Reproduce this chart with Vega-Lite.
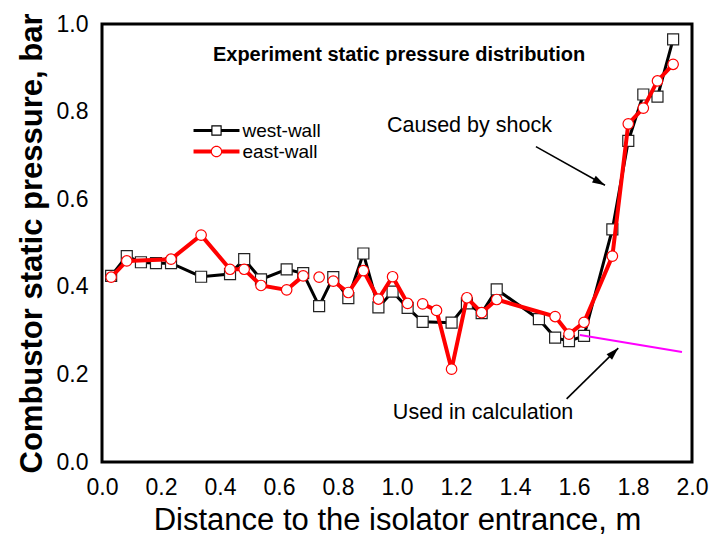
{
  "$schema": "https://vega.github.io/schema/vega-lite/v6.json",
  "width": 590,
  "height": 438,
  "autosize": {"type": "none"},
  "padding": {"left": 102, "top": 24, "right": 27, "bottom": 75},
  "background": "white",
  "config": {
    "view": {"stroke": "#000000", "strokeWidth": 3},
    "font": "Liberation Sans",
    "axis": {
      "grid": false,
      "domain": false,
      "ticks": false,
      "labelColor": "#000000",
      "labelFont": "Liberation Sans",
      "labelFontSize": 23,
      "labelOverlap": false,
      "labelFlush": false,
      "titleColor": "#000000",
      "titleFont": "Liberation Sans",
      "titleFontWeight": "normal"
    }
  },
  "datasets": {
    "pressure": [
      {"x": 0.031, "p": 0.425, "wall": "west-wall", "seg": "w"},
      {"x": 0.084, "p": 0.470, "wall": "west-wall", "seg": "w"},
      {"x": 0.132, "p": 0.456, "wall": "west-wall", "seg": "w"},
      {"x": 0.183, "p": 0.454, "wall": "west-wall", "seg": "w"},
      {"x": 0.234, "p": 0.454, "wall": "west-wall", "seg": "w"},
      {"x": 0.336, "p": 0.423, "wall": "west-wall", "seg": "w"},
      {"x": 0.434, "p": 0.429, "wall": "west-wall", "seg": "w"},
      {"x": 0.482, "p": 0.463, "wall": "west-wall", "seg": "w"},
      {"x": 0.539, "p": 0.417, "wall": "west-wall", "seg": "w"},
      {"x": 0.626, "p": 0.440, "wall": "west-wall", "seg": "w"},
      {"x": 0.682, "p": 0.431, "wall": "west-wall", "seg": "w"},
      {"x": 0.736, "p": 0.356, "wall": "west-wall", "seg": "w"},
      {"x": 0.784, "p": 0.422, "wall": "west-wall", "seg": "w"},
      {"x": 0.835, "p": 0.374, "wall": "west-wall", "seg": "w"},
      {"x": 0.886, "p": 0.476, "wall": "west-wall", "seg": "w"},
      {"x": 0.937, "p": 0.353, "wall": "west-wall", "seg": "w"},
      {"x": 0.985, "p": 0.389, "wall": "west-wall", "seg": "w"},
      {"x": 1.036, "p": 0.352, "wall": "west-wall", "seg": "w"},
      {"x": 1.087, "p": 0.320, "wall": "west-wall", "seg": "w"},
      {"x": 1.185, "p": 0.318, "wall": "west-wall", "seg": "w"},
      {"x": 1.237, "p": 0.362, "wall": "west-wall", "seg": "w"},
      {"x": 1.287, "p": 0.340, "wall": "west-wall", "seg": "w"},
      {"x": 1.338, "p": 0.394, "wall": "west-wall", "seg": "w"},
      {"x": 1.481, "p": 0.326, "wall": "west-wall", "seg": "w"},
      {"x": 1.536, "p": 0.284, "wall": "west-wall", "seg": "w"},
      {"x": 1.583, "p": 0.276, "wall": "west-wall", "seg": "w"},
      {"x": 1.634, "p": 0.288, "wall": "west-wall", "seg": "w"},
      {"x": 1.730, "p": 0.531, "wall": "west-wall", "seg": "w"},
      {"x": 1.784, "p": 0.733, "wall": "west-wall", "seg": "w"},
      {"x": 1.835, "p": 0.839, "wall": "west-wall", "seg": "w"},
      {"x": 1.883, "p": 0.834, "wall": "west-wall", "seg": "w"},
      {"x": 1.936, "p": 0.965, "wall": "west-wall", "seg": "w"},
      {"x": 0.031, "p": 0.422, "wall": "east-wall", "seg": "e1"},
      {"x": 0.084, "p": 0.459, "wall": "east-wall", "seg": "e1"},
      {"x": 0.234, "p": 0.463, "wall": "east-wall", "seg": "e1"},
      {"x": 0.336, "p": 0.518, "wall": "east-wall", "seg": "e1"},
      {"x": 0.434, "p": 0.440, "wall": "east-wall", "seg": "e1"},
      {"x": 0.482, "p": 0.440, "wall": "east-wall", "seg": "e1"},
      {"x": 0.539, "p": 0.403, "wall": "east-wall", "seg": "e1"},
      {"x": 0.626, "p": 0.393, "wall": "east-wall", "seg": "e1"},
      {"x": 0.682, "p": 0.425, "wall": "east-wall", "seg": "e1"},
      {"x": 0.736, "p": 0.422, "wall": "east-wall", "seg": "e2"},
      {"x": 0.784, "p": 0.413, "wall": "east-wall", "seg": "e3"},
      {"x": 0.835, "p": 0.387, "wall": "east-wall", "seg": "e3"},
      {"x": 0.886, "p": 0.437, "wall": "east-wall", "seg": "e3"},
      {"x": 0.937, "p": 0.372, "wall": "east-wall", "seg": "e3"},
      {"x": 0.985, "p": 0.423, "wall": "east-wall", "seg": "e3"},
      {"x": 1.036, "p": 0.362, "wall": "east-wall", "seg": "e3"},
      {"x": 1.087, "p": 0.361, "wall": "east-wall", "seg": "e4"},
      {"x": 1.134, "p": 0.346, "wall": "east-wall", "seg": "e4"},
      {"x": 1.185, "p": 0.212, "wall": "east-wall", "seg": "e4"},
      {"x": 1.237, "p": 0.375, "wall": "east-wall", "seg": "e4"},
      {"x": 1.287, "p": 0.341, "wall": "east-wall", "seg": "e4"},
      {"x": 1.338, "p": 0.371, "wall": "east-wall", "seg": "e4"},
      {"x": 1.536, "p": 0.332, "wall": "east-wall", "seg": "e4"},
      {"x": 1.583, "p": 0.292, "wall": "east-wall", "seg": "e4"},
      {"x": 1.634, "p": 0.319, "wall": "east-wall", "seg": "e4"},
      {"x": 1.730, "p": 0.470, "wall": "east-wall", "seg": "e4"},
      {"x": 1.784, "p": 0.772, "wall": "east-wall", "seg": "e4"},
      {"x": 1.835, "p": 0.808, "wall": "east-wall", "seg": "e4"},
      {"x": 1.883, "p": 0.870, "wall": "east-wall", "seg": "e4"},
      {"x": 1.936, "p": 0.908, "wall": "east-wall", "seg": "e4"}
    ],
    "calc": [
      {"x": 1.620, "p": 0.290},
      {"x": 1.966, "p": 0.251}
    ],
    "arrows": [
      {"note": "shock", "x": 1.471, "p": 0.720, "x2": 1.705, "p2": 0.632},
      {"note": "calc", "x": 1.575, "p": 0.144, "x2": 1.750, "p2": 0.260}
    ],
    "notes": [
      {"kind": "heading", "x": 0.376, "p": 0.929, "text": "Experiment static pressure distribution"},
      {"kind": "note", "x": 0.966, "p": 0.766, "text": "Caused by shock"},
      {"kind": "note", "x": 0.986, "p": 0.112, "text": "Used in calculation"}
    ],
    "xmajor": [
      {"v": 0}, {"v": 0.2}, {"v": 0.4}, {"v": 0.6}, {"v": 0.8}, {"v": 1}, {"v": 1.2}, {"v": 1.4}, {"v": 1.6}, {"v": 1.8}, {"v": 2}
    ],
    "xminor": [
      {"v": 0.04}, {"v": 0.08}, {"v": 0.12}, {"v": 0.16}, {"v": 0.24}, {"v": 0.28}, {"v": 0.32}, {"v": 0.36},
      {"v": 0.44}, {"v": 0.48}, {"v": 0.52}, {"v": 0.56}, {"v": 0.64}, {"v": 0.68}, {"v": 0.72}, {"v": 0.76},
      {"v": 0.84}, {"v": 0.88}, {"v": 0.92}, {"v": 0.96}, {"v": 1.04}, {"v": 1.08}, {"v": 1.12}, {"v": 1.16},
      {"v": 1.24}, {"v": 1.28}, {"v": 1.32}, {"v": 1.36}, {"v": 1.44}, {"v": 1.48}, {"v": 1.52}, {"v": 1.56},
      {"v": 1.64}, {"v": 1.68}, {"v": 1.72}, {"v": 1.76}, {"v": 1.84}, {"v": 1.88}, {"v": 1.92}, {"v": 1.96}
    ],
    "ymajor": [
      {"v": 0}, {"v": 0.2}, {"v": 0.4}, {"v": 0.6}, {"v": 0.8}, {"v": 1}
    ],
    "yminor": [
      {"v": 0.04}, {"v": 0.08}, {"v": 0.12}, {"v": 0.16}, {"v": 0.24}, {"v": 0.28}, {"v": 0.32}, {"v": 0.36},
      {"v": 0.44}, {"v": 0.48}, {"v": 0.52}, {"v": 0.56}, {"v": 0.64}, {"v": 0.68}, {"v": 0.72}, {"v": 0.76},
      {"v": 0.84}, {"v": 0.88}, {"v": 0.92}, {"v": 0.96}
    ]
  },
  "resolve": {"axis": {"x": "independent", "y": "independent"}},
  "encoding": {
    "x": {"field": "x", "type": "quantitative", "scale": {"domain": [0, 2], "nice": false, "zero": false}, "axis": null},
    "y": {"field": "p", "type": "quantitative", "scale": {"domain": [0, 1], "nice": false, "zero": false}, "axis": null}
  },
  "layer": [
    {
      "data": {"name": "pressure"},
      "transform": [{"filter": "datum.wall === 'west-wall'"}],
      "mark": {"type": "line", "strokeWidth": 3, "color": "#000000"},
      "encoding": {
        "x": {
          "field": "x", "type": "quantitative",
          "scale": {"domain": [0, 2], "nice": false, "zero": false},
          "axis": {
            "orient": "bottom",
            "title": "Distance to the isolator entrance, m",
            "titleFontSize": 31,
            "values": [0, 0.2, 0.4, 0.6, 0.8, 1, 1.2, 1.4, 1.6, 1.8, 2],
            "format": ".1f",
            "labelPadding": 14,
            "titlePadding": 6
          }
        },
        "y": {
          "field": "p", "type": "quantitative",
          "scale": {"domain": [0, 1], "nice": false, "zero": false},
          "axis": {
            "orient": "left",
            "title": "Combustor static pressure, bar",
            "titleFontSize": 31,
            "titleFontWeight": "bold",
            "values": [0, 0.2, 0.4, 0.6, 0.8, 1],
            "format": ".1f",
            "labelPadding": 14,
            "titlePadding": 8
          }
        }
      }
    },
    {
      "data": {"name": "pressure"},
      "transform": [{"filter": "datum.wall === 'west-wall'"}],
      "mark": {"type": "point", "shape": "square", "fill": "#ffffff", "fillOpacity": 1, "stroke": "#222222", "strokeWidth": 1.2, "size": 121, "opacity": 1},
      "encoding": {}
    },
    {
      "data": {"name": "pressure"},
      "transform": [{"filter": "datum.wall === 'east-wall'"}],
      "mark": {"type": "line", "strokeWidth": 4, "color": "#ff0000"},
      "encoding": {"detail": {"field": "seg"}}
    },
    {
      "data": {"name": "pressure"},
      "transform": [{"filter": "datum.wall === 'east-wall'"}],
      "mark": {"type": "point", "shape": "circle", "fill": "#ffffff", "fillOpacity": 1, "stroke": "#ff0000", "strokeWidth": 1.2, "size": 110, "opacity": 1},
      "encoding": {}
    },
    {
      "data": {"name": "calc"},
      "mark": {"type": "line", "color": "#ff00ff", "strokeWidth": 2},
      "encoding": {}
    },
    {
      "data": {"name": "pressure"},
      "mark": {"type": "point", "filled": true, "opacity": 0},
      "encoding": {
        "color": {
          "field": "wall", "type": "nominal",
          "scale": {"domain": ["west-wall", "east-wall"], "range": ["#000000", "#ff0000"]},
          "legend": {
            "orient": "none", "legendX": 105, "legendY": 97,
            "title": null, "padding": 0,
            "symbolSize": 132, "symbolOpacity": 1, "symbolStrokeWidth": 0,
            "labelFont": "Liberation Sans", "labelFontSize": 19, "labelColor": "#000000",
            "labelOffset": 16.5, "rowPadding": 1
          }
        },
        "shape": {
          "field": "wall", "type": "nominal",
          "scale": {
            "domain": ["west-wall", "east-wall"],
            "range": [
              "M-4,-0.28L-0.9,-0.28L-0.9,0.28L-4,0.28Z M0.9,-0.28L4,-0.28L4,0.28L0.9,0.28Z M-0.9,-0.9L0.9,-0.9L0.9,0.9L-0.9,0.9Z M-0.7,-0.7L-0.7,0.7L0.7,0.7L0.7,-0.7Z",
              "M-4,-0.35L-0.98,-0.35L-0.98,0.35L-4,0.35Z M0.98,-0.35L4,-0.35L4,0.35L0.98,0.35Z M1,0A1,1,0,1,1,-1,0A1,1,0,1,1,1,0Z M0.8,0A0.8,0.8,0,1,0,-0.8,0A0.8,0.8,0,1,0,0.8,0Z"
            ]
          },
          "legend": {
            "orient": "none", "legendX": 105, "legendY": 97,
            "title": null, "padding": 0,
            "symbolSize": 132, "symbolOpacity": 1, "symbolStrokeWidth": 0,
            "labelFont": "Liberation Sans", "labelFontSize": 19, "labelColor": "#000000",
            "labelOffset": 16.5, "rowPadding": 1
          }
        }
      }
    },
    {
      "data": {"name": "arrows"},
      "mark": {"type": "rule", "color": "#000000", "strokeWidth": 1.6},
      "encoding": {
        "x2": {"field": "x2"},
        "y2": {"field": "p2"}
      }
    },
    {
      "data": {"name": "arrows"},
      "transform": [{"filter": "datum.note === 'shock'"}],
      "mark": {"type": "point", "shape": "M0,0L0.4,1.3L-0.4,1.3Z", "filled": true, "color": "#000000", "opacity": 1, "size": 380, "angle": 119},
      "encoding": {
        "x": {"field": "x2", "type": "quantitative", "axis": null},
        "y": {"field": "p2", "type": "quantitative", "axis": null}
      }
    },
    {
      "data": {"name": "arrows"},
      "transform": [{"filter": "datum.note === 'calc'"}],
      "mark": {"type": "point", "shape": "M0,0L0.4,1.3L-0.4,1.3Z", "filled": true, "color": "#000000", "opacity": 1, "size": 380, "angle": 45},
      "encoding": {
        "x": {"field": "x2", "type": "quantitative", "axis": null},
        "y": {"field": "p2", "type": "quantitative", "axis": null}
      }
    },
    {
      "data": {"name": "notes"},
      "transform": [{"filter": "datum.kind === 'heading'"}],
      "mark": {"type": "text", "align": "left", "baseline": "middle", "font": "Liberation Sans", "fontSize": 20, "fontWeight": "bold", "color": "#000000"},
      "encoding": {"text": {"field": "text"}}
    },
    {
      "data": {"name": "notes"},
      "transform": [{"filter": "datum.kind === 'note'"}],
      "mark": {"type": "text", "align": "left", "baseline": "middle", "font": "Liberation Sans", "fontSize": 21.5, "color": "#000000"},
      "encoding": {"text": {"field": "text"}}
    },
    {
      "data": {"name": "xmajor"},
      "mark": {"type": "rule", "color": "#000000", "strokeWidth": 2.5, "opacity": 1},
      "encoding": {
        "x": {"field": "v", "type": "quantitative", "axis": null},
        "y": {"datum": 0, "type": "quantitative", "axis": null},
        "y2": {"datum": 0.0274}
      }
    },
    {
      "data": {"name": "xminor"},
      "mark": {"type": "rule", "color": "#000000", "strokeWidth": 2.5, "opacity": 1},
      "encoding": {
        "x": {"field": "v", "type": "quantitative", "axis": null},
        "y": {"datum": 0, "type": "quantitative", "axis": null},
        "y2": {"datum": 0.016}
      }
    },
    {
      "data": {"name": "xmajor"},
      "mark": {"type": "rule", "color": "#000000", "strokeWidth": 2.5, "opacity": 1},
      "encoding": {
        "x": {"field": "v", "type": "quantitative", "axis": null},
        "y": {"datum": 1, "type": "quantitative", "axis": null},
        "y2": {"datum": 0.9726}
      }
    },
    {
      "data": {"name": "xminor"},
      "mark": {"type": "rule", "color": "#000000", "strokeWidth": 2.5, "opacity": 1},
      "encoding": {
        "x": {"field": "v", "type": "quantitative", "axis": null},
        "y": {"datum": 1, "type": "quantitative", "axis": null},
        "y2": {"datum": 0.984}
      }
    },
    {
      "data": {"name": "ymajor"},
      "mark": {"type": "rule", "color": "#000000", "strokeWidth": 2.5, "opacity": 1},
      "encoding": {
        "y": {"field": "v", "type": "quantitative", "axis": null},
        "x": {"datum": 0, "type": "quantitative", "axis": null},
        "x2": {"datum": 0.0407}
      }
    },
    {
      "data": {"name": "yminor"},
      "mark": {"type": "rule", "color": "#000000", "strokeWidth": 2.5, "opacity": 1},
      "encoding": {
        "y": {"field": "v", "type": "quantitative", "axis": null},
        "x": {"datum": 0, "type": "quantitative", "axis": null},
        "x2": {"datum": 0.0237}
      }
    },
    {
      "data": {"name": "ymajor"},
      "mark": {"type": "rule", "color": "#000000", "strokeWidth": 2.5, "opacity": 1},
      "encoding": {
        "y": {"field": "v", "type": "quantitative", "axis": null},
        "x": {"datum": 2, "type": "quantitative", "axis": null},
        "x2": {"datum": 1.9593}
      }
    },
    {
      "data": {"name": "yminor"},
      "mark": {"type": "rule", "color": "#000000", "strokeWidth": 2.5, "opacity": 1},
      "encoding": {
        "y": {"field": "v", "type": "quantitative", "axis": null},
        "x": {"datum": 2, "type": "quantitative", "axis": null},
        "x2": {"datum": 1.9763}
      }
    }
  ]
}
